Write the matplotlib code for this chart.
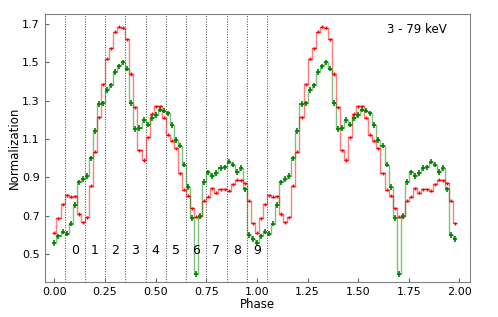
import numpy as np
import matplotlib
matplotlib.use("Agg")
import matplotlib.pyplot as plt

# pulse profile, one period, 50 bins
red = [0.611, 0.686, 0.760, 0.805, 0.798, 0.800, 0.708, 0.666, 0.690, 0.855,
       1.032, 1.213, 1.386, 1.518, 1.572, 1.659, 1.686, 1.681, 1.621, 1.439,
       1.265, 1.041, 0.990, 1.109, 1.231, 1.271, 1.271, 1.211, 1.121, 1.090,
       1.052, 0.921, 0.834, 0.803, 0.739, 0.693, 0.697, 0.777, 0.799, 0.843,
       0.820, 0.837, 0.837, 0.829, 0.864, 0.886, 0.883, 0.869, 0.777, 0.660]
green = [0.557, 0.591, 0.616, 0.606, 0.658, 0.755, 0.873, 0.891, 0.905, 0.998,
         1.140, 1.282, 1.285, 1.356, 1.379, 1.448, 1.478, 1.499, 1.467, 1.286,
         1.150, 1.155, 1.198, 1.175, 1.208, 1.223, 1.253, 1.248, 1.233, 1.172,
         1.093, 1.065, 0.966, 0.847, 0.688, 0.395, 0.697, 0.876, 0.925, 0.907,
         0.921, 0.950, 0.951, 0.982, 0.966, 0.927, 0.947, 0.836, 0.599, 0.577]
red_err = 0.008
green_err = 0.015
nbins = 50
section_edges = [0.05, 0.15, 0.25, 0.35, 0.45, 0.55, 0.65, 0.75, 0.85, 0.95, 1.05]
section_labels = ["0", "1", "2", "3", "4", "5", "6", "7", "8", "9"]

# two periods
phase = np.arange(2 * nbins) / nbins
r = np.array(red + red)
g = np.array(green + green)

fig = plt.figure(figsize=(4.98, 3.17), dpi=100)
ax = fig.add_axes([0.0898, 0.1104, 0.854, 0.8454])

for xv in section_edges:
    ax.axvline(xv, color="0.25", ls=":", lw=0.7, zorder=1)
for i, lab in enumerate(section_labels):
    ax.text((section_edges[i] + section_edges[i + 1]) / 2, 0.52, lab,
            ha="center", va="center", fontsize=9)

ax.step(phase, r, where="mid", color="red", alpha=0.5, lw=1)
ax.step(phase, g, where="mid", color="green", alpha=0.5, lw=1)
ax.errorbar(phase, r, xerr=0.5 / nbins, yerr=red_err, fmt="none",
            ecolor="red", elinewidth=1)
ax.errorbar(phase, g, xerr=0.5 / nbins, yerr=green_err, fmt="none",
            ecolor="green", elinewidth=1.2)

ax.text(1.79, 1.669, "3 - 79 keV", ha="center", va="center", fontsize=8.5)

ax.set_xlim(-0.048, 2.052)
ax.set_ylim(0.353, 1.752)
ax.set_xticks([0, 0.25, 0.5, 0.75, 1.0, 1.25, 1.5, 1.75, 2.0])
ax.set_yticks([0.5, 0.7, 0.9, 1.1, 1.3, 1.5, 1.7])
ax.tick_params(direction="in", labelsize=8, length=3, color="0.4")
for s in ax.spines.values():
    s.set_color("0.5")
ax.set_xlabel("Phase", fontsize=8.5, labelpad=1)
ax.set_ylabel("Normalization", fontsize=8.5, labelpad=1)

fig.savefig("out.png", dpi=100)
